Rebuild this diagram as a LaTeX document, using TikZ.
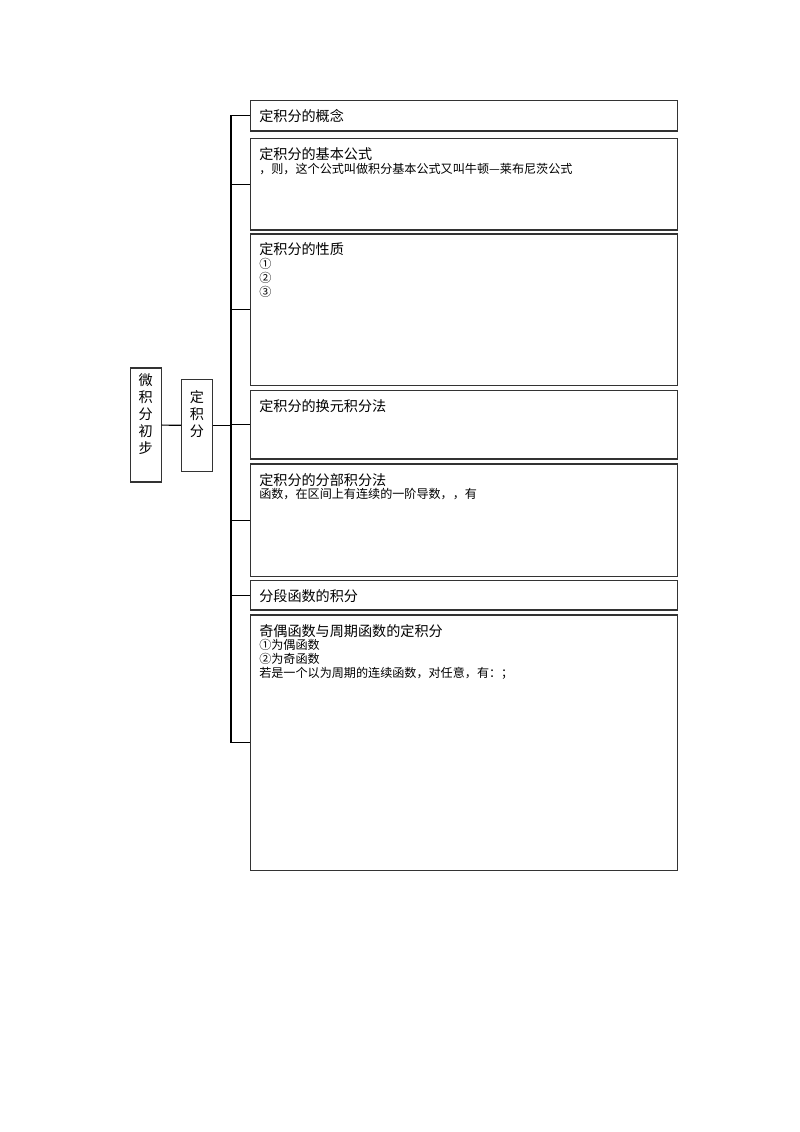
\documentclass[tikz,border=0pt]{standalone}
\usepackage{fontspec}
\newfontfamily\cjk{Noto Sans CJK SC}
\usetikzlibrary{positioning}
\tikzstyle{topic} = [rectangle, draw=black!80, line width=0.9pt, minimum width=22.8pt, inner sep=0pt]
\tikzstyle{part} = [rectangle, draw=black!80, line width=0.9pt, minimum width=317.7pt, inner sep=0pt]
\tikzstyle{vlabel} = [font=\cjk\fontsize{10.5}{12.6}\selectfont, align=center, inner sep=0pt]
\tikzstyle{content} = [font=\cjk\fontsize{9}{10.4}\selectfont, align=left, inner sep=0pt]
\tikzstyle{link} = [line width=0.9pt]
\newcommand{\heading}[1]{{\fontsize{10.5}{12}\selectfont #1}}
\begin{document}
\begin{tikzpicture}[x=0.744pt, y=-0.744pt]
\useasboundingbox (0,0) rectangle (800,1132);
% left column
\node (calculus) [topic, minimum height=84.8pt] at (145.8,425) {};
\node (integral) [topic, minimum height=68.4pt] at (197,425.3) {};
\node (calculustext) [vlabel] at (145.8,414) {微\\积\\分\\初\\步};
\node (integraltext) [vlabel] at (197,414) {定\\积\\分};
% right column
\node (concept) [part, minimum height=22.8pt] at (464,115.6) {};
\node (formula) [part, minimum height=67.9pt] at (464,184.3) {};
\node (property) [part, minimum height=112.9pt] at (464,309.8) {};
\node (substitution) [part, minimum height=50.8pt] at (464,424.8) {};
\node (byparts) [part, minimum height=83.8pt] at (464,520.3) {};
\node (piecewise) [part, minimum height=21.8pt] at (464,595.3) {};
\node (parity) [part, minimum height=190.2pt] at (464,742.8) {};
\node (concepttext) [content, below right=7pt and 6.8pt of concept.north west] {\heading{定积分的概念}};
\node (formulatext) [content, below right=7pt and 6.8pt of formula.north west] {\heading{定积分的基本公式}\\，则，这个公式叫做积分基本公式又叫牛顿—莱布尼茨公式};
\node (propertytext) [content, below right=7pt and 6.8pt of property.north west] {\heading{定积分的性质}\\①\\②\\③};
\node (substitutiontext) [content, below right=7pt and 6.8pt of substitution.north west] {\heading{定积分的换元积分法}};
\node (bypartstext) [content, below right=7pt and 6.8pt of byparts.north west] {\heading{定积分的分部积分法}\\函数，在区间上有连续的一阶导数，，有};
\node (piecewisetext) [content, below right=7pt and 6.8pt of piecewise.north west] {\heading{分段函数的积分}};
\node (paritytext) [content, below right=7pt and 6.8pt of parity.north west] {\heading{奇偶函数与周期函数的定积分}\\①为偶函数\\②为奇函数\\若是一个以为周期的连续函数，对任意，有：；};
% connectors
\coordinate (fork) at (231,425.3);
\draw [link] (calculus) -- (integral);
\draw [link] (integral) -- (fork);
\foreach \part in {concept,formula,property,substitution,byparts,piecewise,parity}
  \draw [link] (fork) |- (\part);
\end{tikzpicture}
\end{document}
